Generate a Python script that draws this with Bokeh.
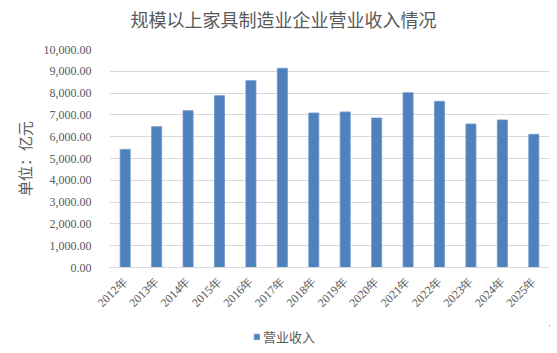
from bokeh.plotting import figure
from bokeh.models import (Range1d, NumeralTickFormatter, SingleIntervalTicker, Legend, LegendItem,
                          FactorRange, Title)
from bokeh.layouts import column
from bokeh.embed import file_html
from bokeh.resources import INLINE
import math

years = ["2012年", "2013年", "2014年", "2015年", "2016年", "2017年", "2018年",
         "2019年", "2020年", "2021年", "2022年", "2023年", "2024年", "2025年"]
revenue = [5418, 6460, 7195, 7883, 8572, 9137, 7088,
           7135, 6858, 8021, 7622, 6583, 6767, 6107]
series_name = "营业收入"
title_text = "规模以上家具制造业企业营业收入情况"
y_title = "单位：亿元"

CJK = "Noto Sans CJK SC"
SERIF = "Liberation Serif"
GRAY = "#595959"
BAR = "#4f81bd"
EDGE = "#6f95c8"

p = figure(width=557, height=325, x_range=FactorRange(*years), y_range=Range1d(0, 10000),
           output_backend="svg", toolbar_location=None,
           min_border_left=109, min_border_right=8, min_border_top=49, min_border_bottom=58)
p.outline_line_color = None
p.background_fill_color = "white"
p.border_fill_color = "white"
p.title.visible = False

r = p.vbar(x=years, top=revenue, width=0.32, fill_color=BAR, line_color=EDGE, line_width=0.8)

# spacer (nearest the frame) then the real title above it
spacer = Title(text=" ", text_font_size="14px", standoff=0)
real_title = Title(text=title_text, align="left", text_font=CJK, text_font_size="18px",
                   text_font_style="normal", text_color=GRAY, offset=21, standoff=0)
p.add_layout(spacer, "above")
p.add_layout(real_title, "above")

p.yaxis.ticker = SingleIntervalTicker(interval=1000)
p.yaxis.formatter = NumeralTickFormatter(format="0,0.00")
p.yaxis.axis_line_color = None
p.yaxis.major_tick_line_color = None
p.yaxis.minor_tick_line_color = None
p.yaxis.major_label_text_font = SERIF
p.yaxis.major_label_text_font_size = "12px"
p.yaxis.major_label_text_color = GRAY
p.yaxis.major_label_standoff = 12
p.yaxis.axis_label = y_title
p.yaxis.axis_label_text_font = CJK
p.yaxis.axis_label_text_font_size = "15px"
p.yaxis.axis_label_text_font_style = "normal"
p.yaxis.axis_label_text_color = GRAY
p.yaxis.axis_label_standoff = 6

p.xaxis.axis_line_color = "#d9d9d9"
p.xaxis.major_tick_line_color = None
p.xaxis.minor_tick_line_color = None
p.xaxis.major_label_orientation = math.pi / 4
p.xaxis.major_label_text_font = SERIF
p.xaxis.major_label_text_font_size = "12px"
p.xaxis.major_label_text_color = GRAY
p.xaxis.major_label_standoff = 6

p.xgrid.grid_line_color = None
p.ygrid.grid_line_color = "#d9d9d9"
p.ygrid.grid_line_width = 1

# legend strip below the chart (its proxy bars lie far outside the visible ranges)
lg = figure(width=557, height=28, output_backend="svg", toolbar_location=None,
            x_axis_type=None, y_axis_type=None, min_border=0,
            x_range=Range1d(-100, -99), y_range=Range1d(-2, -1))
lg.outline_line_color = None
lg.grid.visible = False
lr = lg.vbar(x=list(range(len(years))), top=revenue, width=0.32,
             fill_color=BAR, line_color=EDGE, line_width=0.8)
legend = Legend(items=[LegendItem(label=series_name, renderers=[lr], index=0)],
                orientation="horizontal", location=(144, 7), border_line_color=None,
                background_fill_alpha=0, glyph_width=7, glyph_height=7, label_height=14,
                label_text_font=CJK, label_text_font_size="13px", label_text_color=GRAY,
                label_standoff=3, padding=0, margin=0)
lg.add_layout(legend)

open("out.html", "w").write(file_html(column(p, lg, spacing=0), INLINE))
